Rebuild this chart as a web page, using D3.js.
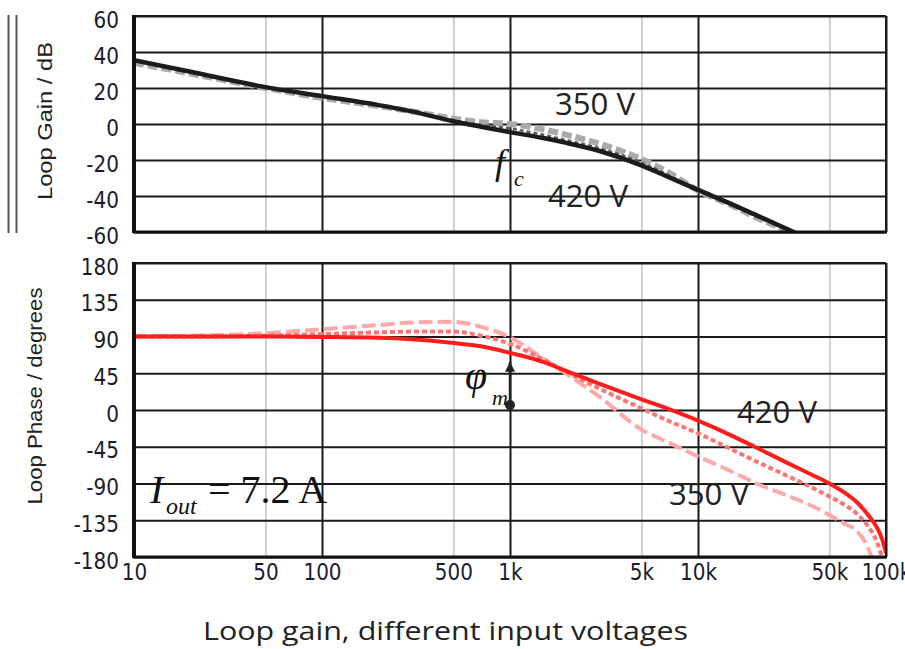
<!DOCTYPE html>
<html><head><meta charset="utf-8">
<script src="https://cdn.jsdelivr.net/npm/d3@7"></script>
<style>body{margin:0;background:#fff}svg{display:block}</style>
</head><body>
<svg id="c" width="905" height="649"></svg>
<script>
// ---------- data ----------
const freqs = [10, 20, 50, 100, 200, 300, 500, 700, 1000, 1500, 2000, 3000, 5000, 7000, 10000, 15000, 20000, 30000, 40000, 50000, 60000, 70000, 80000, 90000, 95000, 100000];
const gain420 = [35.5, 29, 20.5, 15.5, 10.5, 7, 1.5, -1.5, -4.5, -7.8, -10.5, -15, -23, -29.6, -36.6, -44.4, -50.2, -58.5, -64.5, -69, -72, -75, -78, -80, -81, -82];
const gainMid = [35, 28.5, 20.5, 15, 10.5, 7, 2, -0.5, -2.5, -6, -9, -13.5, -21.5, -28.5, -37, -45, -51, -59, -65, -70, -73, -76, -79, -81, -82, -83];
const gain350 = [34, 28, 20, 14.5, 10, 7, 3, 1, 0, -3, -6, -11, -19.5, -27, -37, -45, -51.5, -59.5, -66, -71, -74, -77, -80, -82, -83, -84];
const phase420 = [90, 90, 90, 89.5, 88.5, 86.5, 82, 78, 70, 59, 47.5, 32, 13, 1, -13, -31, -45, -65, -79, -90, -101, -113, -128, -145, -157, -175];
const phaseMid = [90, 90, 91, 93, 95, 96, 96, 91, 81, 62, 46.5, 26, 2, -13.5, -28.5, -48, -62, -81, -94.5, -106, -116, -127, -142, -163, -180, -200];
const phase350 = [90, 91, 94, 99, 104, 107, 108, 102, 89, 63, 44, 16, -24, -40, -57, -75, -89, -105, -117, -128.5, -139, -148, -168, -200, -210, -220];
const gainTicks = [-60, -40, -20, 0, 20, 40, 60];
const phaseTicks = [-180, -135, -90, -45, 0, 45, 90, 135, 180];
const xTickValues = [10, 50, 100, 500, 1000, 5000, 10000, 50000, 100000];
const xTickLabels = ['10', '50', '100', '500', '1k', '5k', '10k', '50k', '100k'];
const majorFreqs = [10, 100, 1000, 10000, 100000];
const voltLabels = ['350 V', '420 V'];

// ---------- layout ----------
const svg = d3.select('#c');
const L = 134, R = 886;
const x = d3.scaleLog().domain([10, 100000]).range([L, R]);
const yG = d3.scaleLinear().domain([-60, 60]).range([232, 16]);
const yP = d3.scaleLinear().domain([-180, 180]).range([557, 263]);
const tickFont = '"DejaVu Sans", Verdana, sans-serif';

svg.append('rect').attr('width', 905).attr('height', 649).attr('fill', '#fff');

// double bars at far left
[8.5, 16.5].forEach(px => svg.append('line').attr('x1', px).attr('x2', px).attr('y1', 15).attr('y2', 233)
  .attr('stroke', '#555').attr('stroke-width', 2));

const defs = svg.append('defs');
defs.append('clipPath').attr('id', 'clipG').append('rect').attr('x', L).attr('y', 16).attr('width', R - L).attr('height', 232 - 16);
defs.append('clipPath').attr('id', 'clipP').append('rect').attr('x', L).attr('y', 263).attr('width', R - L).attr('height', 557 - 263);
defs.append('marker').attr('id', 'arr').attr('viewBox', '0 0 10 10').attr('refX', 10).attr('refY', 5)
  .attr('markerWidth', 4).attr('markerHeight', 4).attr('orient', 'auto-start-reverse').attr('markerUnits', 'strokeWidth')
  .append('path').attr('d', 'M0,0L10,5L0,10z').attr('fill', '#222');

function panel(yScale, ticks, top, bottom, showX, clipId, series) {
  const g = svg.append('g');
  // vertical grid
  const vx = d3.axisBottom(x).tickValues(xTickValues).tickSize(-(bottom - top)).tickPadding(6)
    .tickFormat((d, i) => showX ? xTickLabels[i] : '');
  const gx = g.append('g').attr('transform', `translate(0,${bottom})`).call(vx);
  gx.select('.domain').remove();
  gx.selectAll('.tick line').attr('stroke', d => majorFreqs.includes(d) ? '#1a1a1a' : '#cfcfcf').attr('stroke-width', 2);
  gx.selectAll('.tick text').attr('font-family', tickFont).attr('font-size', 20).attr('fill', '#1b1b2b')
    .attr('transform', 'scale(1,1.15)');
  // horizontal grid
  const hy = d3.axisLeft(yScale).tickValues(ticks).tickSize(-(R - L)).tickPadding(15).tickFormat(d => String(d));
  const gy = g.append('g').attr('transform', `translate(${L},0)`).call(hy);
  gy.select('.domain').remove();
  gy.selectAll('.tick line').attr('stroke', '#1a1a1a').attr('stroke-width', 2);
  gy.selectAll('.tick text').attr('font-family', tickFont).attr('font-size', 20).attr('fill', '#1b1b2b')
    .attr('dy', '0.5em').attr('transform', 'scale(1,1.12)');
  // curves
  const line = d3.line().x(d => x(d[0])).y(d => yScale(d[1])).curve(d3.curveMonotoneX);
  const cg = g.append('g').attr('clip-path', `url(#${clipId})`);
  series.forEach(s => {
    cg.append('path').datum(freqs.map((f, i) => [f, s.values[i]])).attr('d', line)
      .attr('fill', 'none').attr('stroke', s.color).attr('stroke-width', s.width)
      .attr('stroke-dasharray', s.dash).attr('stroke-linejoin', 'round');
  });
  // frame
  g.append('line').attr('x1', L).attr('x2', R).attr('y1', top).attr('y2', top).attr('stroke', '#1a1a1a').attr('stroke-width', 2);
  g.append('line').attr('x1', R).attr('x2', R).attr('y1', top).attr('y2', bottom).attr('stroke', '#1a1a1a').attr('stroke-width', 2);
  g.append('line').attr('x1', L - 1).attr('x2', R + 1).attr('y1', bottom).attr('y2', bottom).attr('stroke', '#111').attr('stroke-width', 3);
  g.append('line').attr('x1', L).attr('x2', L).attr('y1', top - 1).attr('y2', bottom + 1).attr('stroke', '#111').attr('stroke-width', 4);
  return g;
}

panel(yG, gainTicks, 16, 232, false, 'clipG', [
  { values: gain350, color: '#a9a9a9', width: 6, dash: '10,4' },
  { values: gainMid, color: '#5a5a5a', width: 2.5, dash: '4,3' },
  { values: gain420, color: '#1c1c1c', width: 4.5, dash: null }
]);
panel(yP, phaseTicks, 263, 557, true, 'clipP', [
  { values: phase350, color: '#ffa8a8', width: 4, dash: '14,5' },
  { values: phaseMid, color: '#ff7575', width: 4, dash: '5,3' },
  { values: phase420, color: '#ff1c1c', width: 4, dash: null }
]);

// axis titles
svg.append('text').attr('transform', 'translate(52,121) rotate(-90)').attr('text-anchor', 'middle')
  .attr('font-family', '"Liberation Sans", Arial, sans-serif').attr('font-size', 19.5).attr('fill', '#222')
  .attr('textLength', 158).attr('lengthAdjust', 'spacingAndGlyphs').text('Loop Gain / dB');
svg.append('text').attr('transform', 'translate(41.5,396) rotate(-90)').attr('text-anchor', 'middle')
  .attr('font-family', '"Liberation Sans", Arial, sans-serif').attr('font-size', 19.5).attr('fill', '#222')
  .attr('textLength', 217).attr('lengthAdjust', 'spacingAndGlyphs').text('Loop Phase / degrees');
svg.append('text').attr('x', 203).attr('y', 640)
  .attr('font-family', '"Open Sans", sans-serif').attr('font-size', 25.5).attr('fill', '#222')
  .attr('textLength', 485).attr('lengthAdjust', 'spacingAndGlyphs').text('Loop gain, different input voltages');

// voltage labels
const vl = [[voltLabels[0], 555, 115], [voltLabels[1], 548, 207], [voltLabels[1], 737, 423], [voltLabels[0], 669, 505]];
vl.forEach(([t, px, py]) => svg.append('text').attr('x', px).attr('y', py)
  .attr('font-family', '"Open Sans", sans-serif').attr('font-size', 31).attr('fill', '#222')
  .attr('textLength', 80).attr('lengthAdjust', 'spacingAndGlyphs').text(t));

// f_c
const serif = '"Liberation Serif", "Times New Roman", serif';
svg.append('text').attr('x', 495).attr('y', 174).attr('font-family', serif).attr('font-style', 'italic').attr('font-size', 36).attr('fill', '#111').text('f');
svg.append('text').attr('x', 514).attr('y', 186).attr('font-family', serif).attr('font-style', 'italic').attr('font-size', 22).attr('fill', '#111').text('c');

// phase margin arrow
svg.append('line').attr('x1', x(1000)).attr('x2', x(1000)).attr('y1', yP(6)).attr('y2', yP(59))
  .attr('stroke', '#222').attr('stroke-width', 2.5).attr('marker-end', 'url(#arr)');
svg.append('circle').attr('cx', x(1000)).attr('cy', yP(6)).attr('r', 5).attr('fill', '#222');
svg.append('text').attr('x', 465).attr('y', 389).attr('font-family', serif).attr('font-style', 'italic').attr('font-size', 40).attr('fill', '#111').text('φ');
svg.append('text').attr('x', 492).attr('y', 405).attr('font-family', serif).attr('font-style', 'italic').attr('font-size', 22).attr('fill', '#111').text('m');

// I_out
svg.append('text').attr('x', 150).attr('y', 503).attr('font-family', serif).attr('font-style', 'italic').attr('font-size', 40).attr('fill', '#111').text('I');
svg.append('text').attr('x', 166).attr('y', 514).attr('font-family', serif).attr('font-style', 'italic').attr('font-size', 24).attr('fill', '#111').text('out');
svg.append('text').attr('x', 208).attr('y', 503).attr('font-family', serif).attr('font-size', 40).attr('fill', '#111').text('= 7.2 A');
</script>
</body></html>
